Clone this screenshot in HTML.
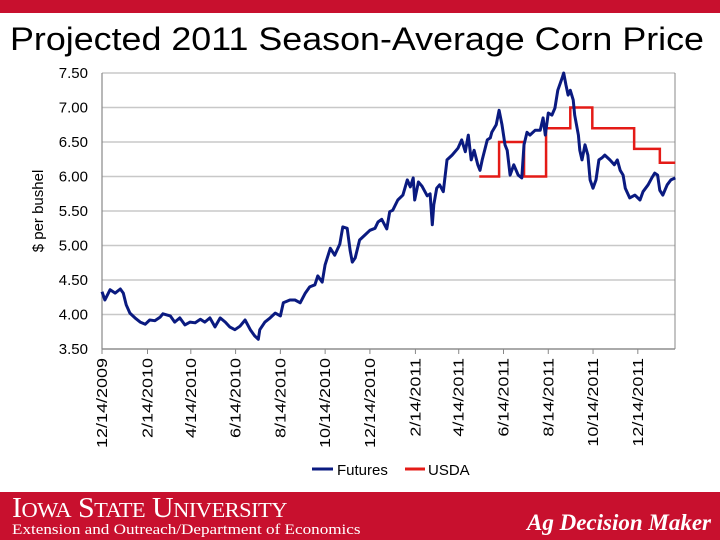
<!DOCTYPE html>
<html><head><meta charset="utf-8">
<style>
body{margin:0;width:720px;height:540px;overflow:hidden;background:#fff;font-family:"Liberation Sans",sans-serif;position:relative}
.topbar{position:absolute;left:0;top:0;width:720px;height:13px;background:#c8102e}
.title{position:absolute;left:10px;top:21px;font-size:32px;color:#000;white-space:nowrap;transform-origin:0 0;transform:scaleX(1.12)}
.footer{position:absolute;left:0;top:492px;width:720px;height:48px;background:#c8102e;color:#fff;font-family:"Liberation Serif",serif}
.sx{position:absolute;white-space:nowrap;transform-origin:0 0}
</style></head><body>
<div class="topbar"></div>
<div class="title">Projected 2011 Season-Average Corn Price</div>
<svg id="chart" width="720" height="492" style="position:absolute;left:0;top:0"></svg>
<div class="footer">
<div class="sx" style="left:12px;top:1px;font-size:28px;letter-spacing:-0.5px;transform:scaleX(1.07)">I<span style="font-size:21px">OWA</span> S<span style="font-size:21px">TATE</span> U<span style="font-size:21px">NIVERSITY</span></div>
<div class="sx" style="left:12px;top:30px;font-size:15px;transform:scaleX(1.14)">Extension and Outreach/Department of Economics</div>
<div class="sx" style="left:527px;top:18px;font-size:23px;font-style:italic;font-weight:bold">Ag Decision Maker</div>
</div>
<script>
const yTicks=[3.5,4.0,4.5,5.0,5.5,6.0,6.5,7.0,7.5];
const xTickLabels=["12/14/2009","2/14/2010","4/14/2010","6/14/2010","8/14/2010","10/14/2010","12/14/2010","2/14/2011","4/14/2011","6/14/2011","8/14/2011","10/14/2011","12/14/2011"];
const xTickDays=[0,62,121,182,243,304,365,427,486,547,608,669,730];
const futDays=[0,4,11,18,25,29,33,38,45,52,59,65,72,79,83,93,99,106,113,120,127,134,140,147,154,161,168,174,181,188,195,202,208,213,215,222,229,236,243,247,256,263,270,277,283,290,294,300,304,311,317,324,328,334,338,341,345,351,358,365,372,376,381,388,392,396,403,410,416,420,424,426,431,436,443,447,450,452,456,460,465,470,477,485,490,495,499,503,507,512,515,518,525,529,531,537,541,545,549,552,556,561,567,572,575,579,583,590,597,601,604,608,613,617,621,627,629,632,635,638,642,644,649,651,654,658,662,665,669,673,677,681,685,692,698,702,706,710,713,719,726,733,737,744,749,753,757,760,764,770,775,781];
const futPrices=[4.33,4.21,4.36,4.31,4.37,4.31,4.14,4.02,3.95,3.89,3.86,3.92,3.91,3.96,4.01,3.98,3.89,3.95,3.85,3.89,3.88,3.93,3.89,3.95,3.82,3.95,3.89,3.82,3.78,3.83,3.92,3.78,3.69,3.64,3.78,3.89,3.95,4.02,3.98,4.17,4.21,4.21,4.17,4.31,4.40,4.43,4.56,4.47,4.72,4.96,4.86,5.02,5.27,5.25,4.93,4.76,4.82,5.08,5.15,5.22,5.25,5.34,5.38,5.24,5.49,5.51,5.66,5.73,5.95,5.85,5.98,5.66,5.92,5.86,5.72,5.75,5.30,5.59,5.83,5.88,5.78,6.24,6.31,6.41,6.53,6.36,6.60,6.24,6.38,6.17,6.09,6.24,6.53,6.56,6.64,6.75,6.96,6.75,6.46,6.38,6.02,6.17,6.02,5.98,6.46,6.64,6.60,6.67,6.67,6.85,6.60,6.92,6.89,6.99,7.25,7.43,7.50,7.33,7.18,7.25,7.11,6.89,6.60,6.38,6.24,6.46,6.31,5.95,5.83,5.95,6.24,6.27,6.31,6.24,6.17,6.24,6.09,6.02,5.83,5.69,5.73,5.66,5.78,5.88,5.98,6.05,6.02,5.80,5.73,5.88,5.95,5.98];
const usdaStart=[514,541,575,605,638,668,725,760];
const usdaVals=[6.0,6.5,6.0,6.7,7.0,6.7,6.4,6.2];
const usdaEnd=781;

const NS="http://www.w3.org/2000/svg";
const svg=document.getElementById('chart');
const X0=102,PXDAY=0.734;
const xs=d=>X0+d*PXDAY;
const ys=v=>349-(v-3.5)*69;
function mk(t,a,p){const e=document.createElementNS(NS,t);for(const k in a)e.setAttribute(k,a[k]);(p||svg).appendChild(e);return e;}
yTicks.forEach(v=>{
 const g=mk('line',{x1:X0,x2:675,y1:ys(v),y2:ys(v),stroke:'#c8c8c8','stroke-width':1.5});
 
 
 const t=mk('text',{x:88,y:ys(v)+5,'text-anchor':'end','font-size':15,fill:'#000'});
 t.textContent=v.toFixed(2);
 
 
});
const fr=mk('line',{x1:675,x2:675,y1:73,y2:349,stroke:'#888','stroke-width':1});


const ya=mk('line',{x1:X0,x2:X0,y1:73,y2:349,stroke:'#888','stroke-width':1.2});


const xa=mk('line',{x1:X0,x2:675,y1:349,y2:349,stroke:'#888','stroke-width':1.2});


xTickDays.forEach((d,i)=>{
 const x=xs(d);
 const tk=mk('line',{x1:x,x2:x,y1:349,y2:354,stroke:'#888'});
 
 
 const t=mk('text',{x:0,y:0,'text-anchor':'end','font-size':15,fill:'#000',transform:`translate(${x+5},358) rotate(-90) scale(1.2,1)`});
 t.textContent=xTickLabels[i];
 
 
});
const yt=mk('text',{x:0,y:0,'text-anchor':'middle','font-size':15,fill:'#000',transform:'translate(43,211) rotate(-90)'});
yt.textContent='$ per bushel';


let up='';
usdaStart.forEach((d,i)=>{const e=i<usdaStart.length-1?usdaStart[i+1]:usdaEnd;up+=(i?'L':'M')+xs(d)+','+ys(usdaVals[i])+'L'+xs(e)+','+ys(usdaVals[i]);});
const ul=mk('path',{d:up,fill:'none',stroke:'#e41b17','stroke-width':2.5});


const fp=futDays.map((d,i)=>(i?'L':'M')+xs(d).toFixed(1)+','+ys(futPrices[i]).toFixed(1)).join('');
const fl=mk('path',{d:fp,fill:'none',stroke:'#0a1a80','stroke-width':3,'stroke-linejoin':'round'});


const l1=mk('line',{x1:312,x2:333,y1:469,y2:469,stroke:'#0a1a80','stroke-width':3});


const lt1=mk('text',{x:337,y:475,'font-size':15});lt1.textContent='Futures';


const l2=mk('line',{x1:405,x2:425,y1:469,y2:469,stroke:'#e41b17','stroke-width':3});


const lt2=mk('text',{x:428,y:475,'font-size':15});lt2.textContent='USDA';


</script>
</body></html>
